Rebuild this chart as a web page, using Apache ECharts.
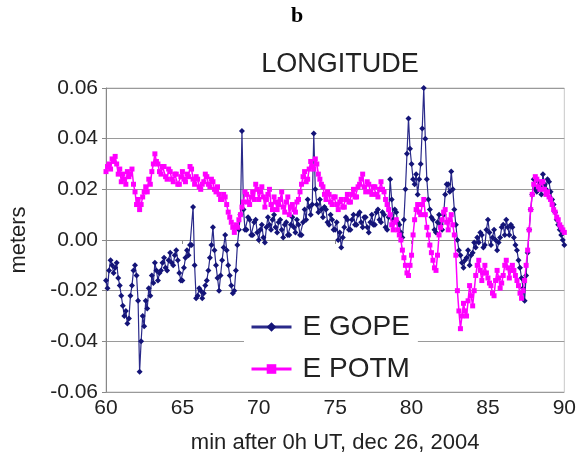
<!DOCTYPE html>
<html>
<head>
<meta charset="utf-8">
<script src="https://cdn.jsdelivr.net/npm/echarts@6/dist/echarts.min.js"></script>
<style>html,body{margin:0;padding:0;background:#fff}#c{width:579px;height:466px}</style>
</head>
<body>
<div id="c"></div>
<script>
// sample times (min after 0h UT)
const TIME = [
60.0,60.1,60.2,60.3,60.4,60.5,60.6,60.7,60.8,60.9,
61.0,61.1,61.2,61.3,61.4,61.5,61.6,61.7,61.8,61.9,
62.0,62.1,62.2,62.3,62.4,62.5,62.6,62.7,62.8,62.9,
63.0,63.1,63.2,63.3,63.4,63.5,63.6,63.7,63.8,63.9,
64.0,64.1,64.2,64.3,64.4,64.5,64.6,64.7,64.8,64.9,
65.0,65.1,65.2,65.3,65.4,65.5,65.6,65.7,65.8,65.9,
66.0,66.1,66.2,66.3,66.4,66.5,66.6,66.7,66.8,66.9,
67.0,67.1,67.2,67.3,67.4,67.5,67.6,67.7,67.8,67.9,
68.0,68.1,68.2,68.3,68.4,68.5,68.6,68.7,68.8,68.9,
69.0,69.1,69.2,69.3,69.4,69.5,69.6,69.7,69.8,69.9,
70.0,70.1,70.2,70.3,70.4,70.5,70.6,70.7,70.8,70.9,
71.0,71.1,71.2,71.3,71.4,71.5,71.6,71.7,71.8,71.9,
72.0,72.1,72.2,72.3,72.4,72.5,72.6,72.7,72.8,72.9,
73.0,73.1,73.2,73.3,73.4,73.5,73.6,73.7,73.8,73.9,
74.0,74.1,74.2,74.3,74.4,74.5,74.6,74.7,74.8,74.9,
75.0,75.1,75.2,75.3,75.4,75.5,75.6,75.7,75.8,75.9,
76.0,76.1,76.2,76.3,76.4,76.5,76.6,76.7,76.8,76.9,
77.0,77.1,77.2,77.3,77.4,77.5,77.6,77.7,77.8,77.9,
78.0,78.1,78.2,78.3,78.4,78.5,78.6,78.7,78.8,78.9,
79.0,79.1,79.2,79.3,79.4,79.5,79.6,79.7,79.8,79.9,
80.0,80.1,80.2,80.3,80.4,80.5,80.6,80.7,80.8,80.9,
81.0,81.1,81.2,81.3,81.4,81.5,81.6,81.7,81.8,81.9,
82.0,82.1,82.2,82.3,82.4,82.5,82.6,82.7,82.8,82.9,
83.0,83.1,83.2,83.3,83.4,83.5,83.6,83.7,83.8,83.9,
84.0,84.1,84.2,84.3,84.4,84.5,84.6,84.7,84.8,84.9,
85.0,85.1,85.2,85.3,85.4,85.5,85.6,85.7,85.8,85.9,
86.0,86.1,86.2,86.3,86.4,86.5,86.6,86.7,86.8,86.9,
87.0,87.1,87.2,87.3,87.4,87.5,87.6,87.7,87.8,87.9,
88.0,88.1,88.2,88.3,88.4,88.5,88.6,88.7,88.8,88.9,
89.0,89.1,89.2,89.3,89.4,89.5,89.6,89.7,89.8,89.9,
90.0];

// E GOPE (meters)
const E_GOPE = [
-0.016,-0.019,-0.012,-0.008,-0.010,-0.013,-0.011,-0.009,-0.015,-0.018,
-0.022,-0.026,-0.030,-0.028,-0.033,-0.031,-0.022,-0.018,-0.012,-0.010,
-0.014,-0.024,-0.052,-0.040,-0.030,-0.034,-0.024,-0.027,-0.019,-0.022,
-0.014,-0.017,-0.009,-0.012,-0.016,-0.013,-0.012,-0.009,-0.007,-0.011,
-0.012,-0.008,-0.005,-0.009,-0.010,-0.006,-0.004,-0.008,-0.013,-0.016,
-0.016,-0.011,-0.007,-0.004,-0.006,-0.002,-0.002,0.013,-0.010,-0.023,
-0.022,-0.019,-0.020,-0.023,-0.021,-0.018,-0.016,-0.012,-0.007,-0.002,
0.005,-0.004,-0.010,-0.015,-0.020,-0.014,-0.008,-0.003,0.002,-0.004,
-0.010,-0.014,-0.018,-0.021,-0.020,-0.012,-0.002,0.004,0.010,0.043,
0.012,0.004,0.004,0.009,0.008,0.002,0.002,0.007,0.008,0.003,
0.000,0.004,0.006,0.001,-0.001,0.005,0.009,0.006,0.004,0.008,
0.010,0.005,0.003,0.007,0.008,0.004,0.001,0.006,0.007,0.002,
0.002,0.006,0.009,0.005,0.003,0.008,0.006,0.002,0.002,0.007,
0.012,0.008,0.016,0.013,0.010,0.014,0.042,0.020,0.014,0.011,
0.016,0.012,0.009,0.013,0.012,0.007,0.006,0.010,0.008,0.004,
0.004,0.007,0.000,0.003,-0.003,0.001,0.005,0.009,0.008,0.004,
0.004,0.008,0.010,0.006,0.006,0.010,0.011,0.007,0.005,0.009,
0.009,0.005,0.003,0.007,0.010,0.006,0.006,0.011,0.012,0.008,
0.007,0.011,0.010,0.005,0.004,0.009,0.024,0.016,0.008,0.012,
0.011,0.007,0.006,0.003,0.001,0.008,0.020,0.034,0.048,0.036,
0.030,0.024,0.022,0.026,0.018,0.024,0.030,0.044,0.060,0.040,
0.024,0.016,0.012,0.009,0.008,0.004,0.003,0.007,0.010,0.006,
0.004,0.010,0.018,0.022,0.022,0.019,0.027,0.020,0.012,0.006,
0.000,-0.004,-0.006,-0.009,-0.011,-0.008,-0.007,-0.004,-0.010,-0.006,
-0.005,-0.001,-0.003,0.001,-0.001,0.003,0.002,-0.003,-0.002,0.004,
0.008,0.003,-0.002,0.001,0.004,0.000,-0.004,-0.001,0.001,0.005,
0.006,0.002,0.008,0.005,0.002,0.006,0.005,0.001,-0.002,-0.004,
-0.008,-0.011,-0.015,-0.019,-0.024,-0.014,-0.005,0.004,0.012,0.018,
0.024,0.020,0.019,0.023,0.021,0.018,0.026,0.022,0.020,0.024,
0.023,0.019,0.016,0.014,0.011,0.008,0.006,0.004,0.002,0.000,
-0.002];

// E POTM (meters)
const E_POTM = [
0.027,0.029,0.030,0.028,0.032,0.031,0.033,0.030,0.026,0.028,
0.023,0.026,0.024,0.022,0.027,0.025,0.026,0.028,0.022,0.019,
0.014,0.016,0.012,0.014,0.017,0.019,0.021,0.019,0.024,0.022,
0.027,0.030,0.034,0.031,0.030,0.027,0.026,0.029,0.029,0.025,
0.024,0.028,0.027,0.024,0.023,0.026,0.026,0.022,0.022,0.025,
0.027,0.024,0.023,0.026,0.025,0.029,0.028,0.024,0.022,0.025,
0.024,0.021,0.020,0.022,0.023,0.026,0.025,0.022,0.021,0.024,
0.023,0.020,0.019,0.021,0.018,0.016,0.016,0.018,0.017,0.014,
0.011,0.009,0.007,0.005,0.003,0.006,0.005,0.008,0.010,0.013,
0.015,0.019,0.018,0.015,0.014,0.017,0.019,0.016,0.022,0.020,
0.016,0.019,0.021,0.017,0.013,0.016,0.018,0.020,0.014,0.012,
0.017,0.015,0.012,0.014,0.016,0.019,0.013,0.011,0.015,0.017,
0.010,0.013,0.014,0.012,0.011,0.015,0.016,0.019,0.022,0.025,
0.027,0.023,0.024,0.028,0.031,0.029,0.028,0.032,0.030,0.026,
0.024,0.022,0.021,0.018,0.016,0.019,0.018,0.015,0.014,0.017,
0.017,0.014,0.012,0.015,0.016,0.013,0.013,0.016,0.018,0.015,
0.015,0.018,0.020,0.017,0.017,0.021,0.022,0.024,0.026,0.021,
0.019,0.023,0.022,0.019,0.018,0.021,0.021,0.018,0.017,0.020,
0.023,0.020,0.019,0.016,0.014,0.012,0.010,0.006,0.004,0.007,
0.008,0.004,0.002,0.000,-0.004,-0.007,-0.010,-0.013,-0.014,-0.010,
-0.006,0.002,0.008,0.012,0.014,0.011,0.010,0.014,0.016,0.010,
0.005,0.002,-0.002,-0.005,-0.008,-0.011,-0.012,-0.006,0.002,0.005,
0.008,0.011,0.012,0.007,0.004,0.008,0.010,0.006,0.002,-0.006,
-0.020,-0.028,-0.035,-0.030,-0.025,-0.028,-0.030,-0.024,-0.018,-0.022,
-0.026,-0.020,-0.014,-0.010,-0.008,-0.012,-0.016,-0.013,-0.010,-0.013,
-0.015,-0.017,-0.018,-0.021,-0.022,-0.016,-0.012,-0.015,-0.019,-0.017,
-0.014,-0.010,-0.008,-0.011,-0.015,-0.012,-0.010,-0.012,-0.014,-0.016,
-0.018,-0.021,-0.023,-0.020,-0.016,-0.010,-0.004,0.004,0.012,0.018,
0.022,0.025,0.024,0.021,0.020,0.023,0.023,0.020,0.018,0.019,
0.017,0.016,0.014,0.012,0.011,0.009,0.008,0.006,0.005,0.004,
0.003];

const X_TICKS = {min: 60, max: 90, interval: 5};
const Y_TICKS = {min: -0.06, max: 0.06, interval: 0.02};

const pairs = arr => TIME.map((t, i) => [t, arr[i]]);

const chart = echarts.init(document.getElementById('c'), null, {renderer: 'canvas'});
const FONT = 'Liberation Sans, Arial, sans-serif';
chart.setOption({
  animation: false,
  backgroundColor: '#fff',
  title: [
    {text: 'b', left: 292, top: 0, textAlign: 'center',
     textStyle: {fontFamily: 'Liberation Serif, Times New Roman, serif', fontWeight: 'bold', fontSize: 22, color: '#000'}},
    {text: 'LONGITUDE', left: 335, top: 46, textAlign: 'center',
     textStyle: {fontFamily: FONT, fontWeight: 'normal', fontSize: 27, color: '#222'}}
  ],
  grid: {left: 104, right: 12, top: 88, bottom: 74, show: true, borderColor: '#c8c8c8', borderWidth: 1, containLabel: false},
  legend: {
    orient: 'vertical', left: 244, top: 306,
    backgroundColor: '#fff', padding: [6, 8, 6, 6],
    itemWidth: 40, itemHeight: 12, itemGap: 12,
    lineStyle: {width: 3},
    textStyle: {fontFamily: FONT, fontSize: 28, color: '#222', padding: [0, 0, 0, 6], lineHeight: 30},
    data: ['E GOPE', 'E POTM']
  },
  xAxis: {
    type: 'value', min: X_TICKS.min, max: X_TICKS.max, interval: X_TICKS.interval,
    name: 'min after 0h UT, dec 26, 2004', nameLocation: 'middle', nameGap: 40,
    nameTextStyle: {fontFamily: FONT, fontSize: 22, color: '#222'},
    axisLine: {lineStyle: {color: '#888', width: 1}},
    axisTick: {show: true, length: 4, lineStyle: {color: '#888'}},
    axisLabel: {fontFamily: FONT, fontSize: 21, color: '#222', margin: 6},
    splitLine: {show: false}
  },
  yAxis: {
    type: 'value', min: Y_TICKS.min, max: Y_TICKS.max, interval: Y_TICKS.interval,
    name: 'meters', nameLocation: 'middle', nameGap: 76, nameRotate: 90,
    nameTextStyle: {fontFamily: FONT, fontSize: 22, color: '#222'},
    axisLine: {show: true, lineStyle: {color: '#888', width: 1}},
    axisTick: {show: true, length: 4, lineStyle: {color: '#888'}},
    axisLabel: {fontFamily: FONT, fontSize: 21, color: '#222', margin: 8,
      formatter: v => (Math.abs(v) < 1e-9 ? 0 : v).toFixed(2)},
    splitLine: {show: true, lineStyle: {color: '#9a9a9a', width: 1.2}}
  },
  series: [
    {name: 'E GOPE', type: 'line', data: pairs(E_GOPE), symbol: 'diamond', symbolSize: 6, showAllSymbol: true,
     itemStyle: {color: '#141478'}, lineStyle: {color: '#2a2a8a', width: 1.2}, z: 2},
    {name: 'E POTM', type: 'line', data: pairs(E_POTM), symbol: 'rect', symbolSize: 5, showAllSymbol: true,
     itemStyle: {color: '#ff00ff'}, lineStyle: {color: '#ff00ff', width: 1.5}, z: 3}
  ]
});
</script>
</body>
</html>
